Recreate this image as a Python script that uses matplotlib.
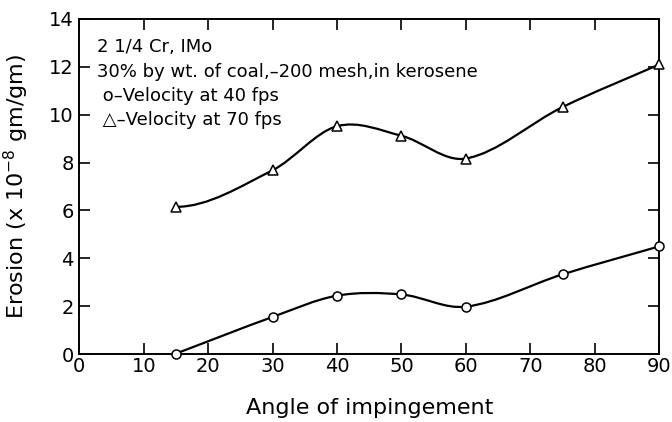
"""Erosion vs angle of impingement, 2 1/4 Cr 1Mo, coal-kerosene slurry."""

import matplotlib

matplotlib.use("Agg")
import matplotlib.pyplot as plt
import numpy as np
from matplotlib.patches import PathPatch
from matplotlib.path import Path

plt.rcParams["font.family"] = ["DejaVu Sans"]
plt.rcParams["mathtext.fontset"] = "dejavusans"

angle = [15, 30, 40, 50, 60, 75, 90]
erosion_40fps = [0.02, 1.55, 2.44, 2.49, 1.98, 3.33, 4.5]
erosion_70fps = [6.15, 7.68, 9.52, 9.12, 8.17, 10.32, 12.1]

x_ticks = list(range(0, 91, 10))
y_ticks = list(range(0, 15, 2))

notes = [
    "2 1/4 Cr, IMo",
    "30% by wt. of coal,\u2013200 mesh,in kerosene",
    " o\u2013Velocity at 40 fps",
    " \u25b3\u2013Velocity at 70 fps",
]


def smooth_path(xs, ys, start_slope=None):
    """Catmull-Rom curve through the points, as cubic Bezier segments."""
    xs = np.asarray(xs, dtype=float)
    ys = np.asarray(ys, dtype=float)
    n = len(xs)
    slopes = np.empty(n)
    for i in range(n):
        lo, hi = max(i - 1, 0), min(i + 1, n - 1)
        slopes[i] = (ys[hi] - ys[lo]) / (xs[hi] - xs[lo])
    if start_slope is not None:
        slopes[0] = start_slope
    verts = [(xs[0], ys[0])]
    codes = [Path.MOVETO]
    for i in range(n - 1):
        h = (xs[i + 1] - xs[i]) / 3.0
        verts += [
            (xs[i] + h, ys[i] + slopes[i] * h),
            (xs[i + 1] - h, ys[i + 1] - slopes[i + 1] * h),
            (xs[i + 1], ys[i + 1]),
        ]
        codes += [Path.CURVE4] * 3
    return Path(verts, codes)


fig = plt.figure(figsize=(6.72, 4.22), dpi=100)
ax = fig.add_axes([0.118, 0.161, 0.863, 0.794])

for ys, slope, marker in [
    (erosion_40fps, None, "o"),
    (erosion_70fps, 0.0, "^"),
]:
    ax.add_patch(
        PathPatch(smooth_path(angle, ys, slope), fill=False, lw=1.6, color="black", zorder=2)
    )
    ax.plot(
        angle, ys, linestyle="none", marker=marker, markersize=6.5,
        markerfacecolor="white", markeredgecolor="black", markeredgewidth=1.1,
        zorder=3, clip_on=False,
    )

ax.set_xlim(0, 90)
ax.set_ylim(0, 14)
ax.set_xticks(x_ticks)
ax.set_yticks(y_ticks)
ax.tick_params(direction="in", length=8, width=1.2, labelsize=14, pad=4,
               top=True, right=True)
ax.tick_params(axis="x", pad=2)
for side in ax.spines.values():
    side.set_linewidth(1.4)

ax.set_xlabel("Angle of impingement", fontsize=16, labelpad=16)
ax.set_ylabel("Erosion (x 10$^{-8}$ gm/gm)", fontsize=16, labelpad=13)

for i, line in enumerate(notes):
    ax.text(0.03, 0.915 - i * 0.0725, line, transform=ax.transAxes,
            fontsize=13, ha="left", va="center")

fig.savefig("out.png", dpi=100)
